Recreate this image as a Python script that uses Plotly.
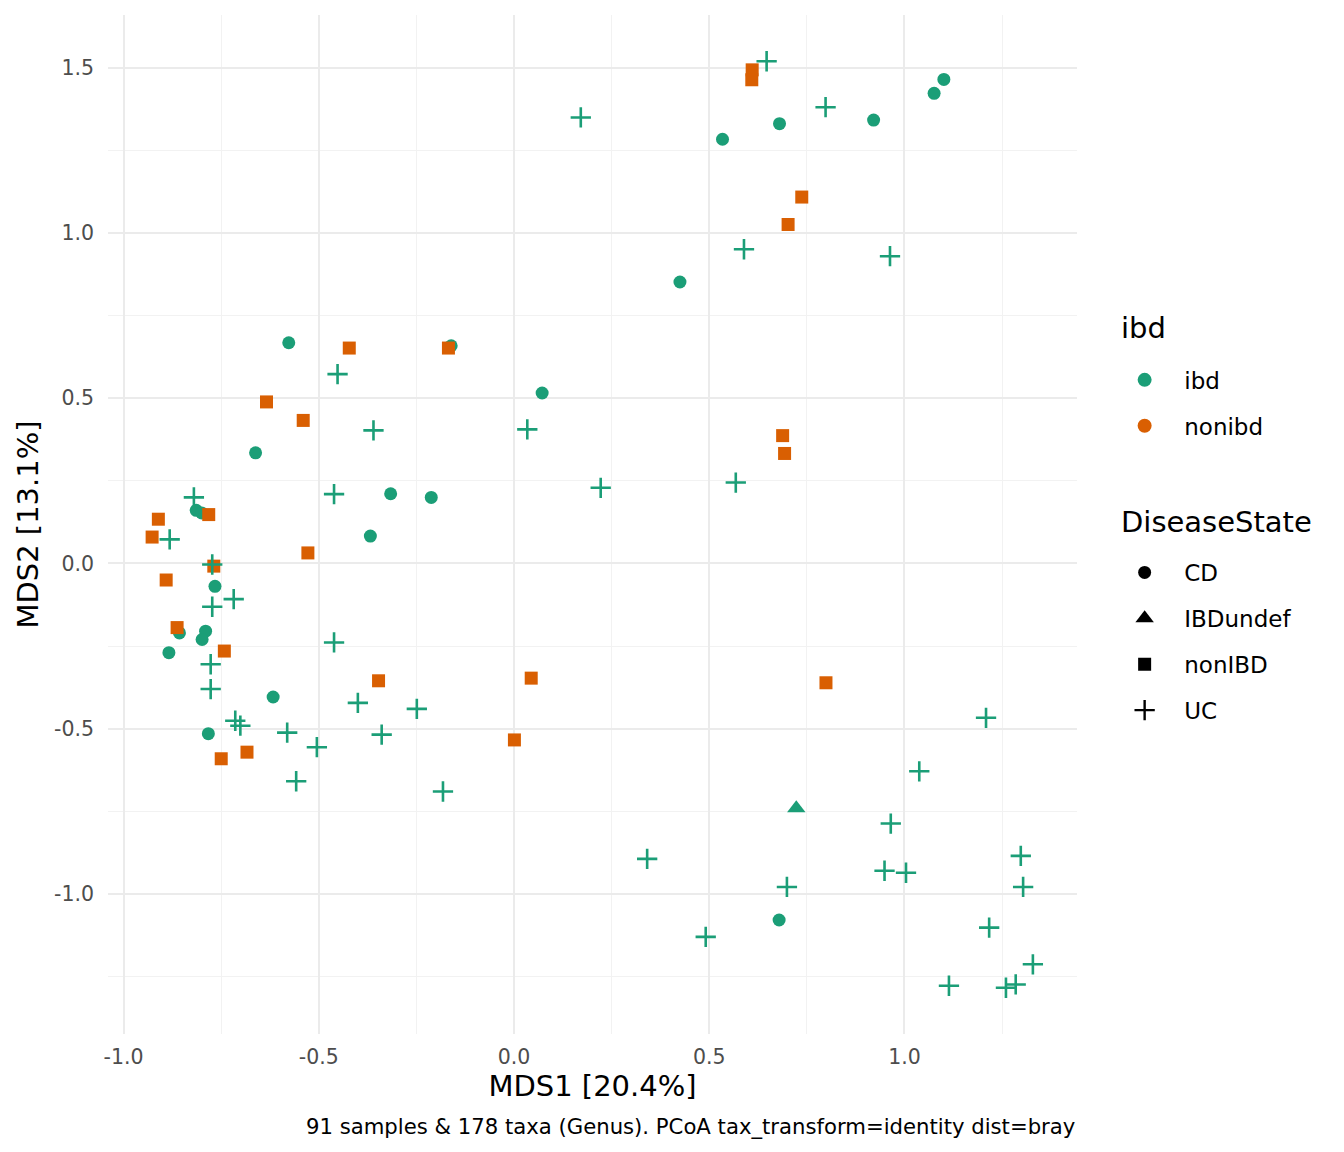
import plotly.graph_objects as pgo

# PCoA coordinates, grouped by DiseaseState
cd_x = [-0.814, -0.800, -0.766, -0.857, -0.790, -0.799, -0.884, -0.617, -0.783, -0.577,
        -0.161, 0.072, -0.662, -0.316, -0.212, -0.368, 0.534, 0.680, 0.921, 1.076,
        1.101, 0.425, 0.679]
cd_y = [0.161, 0.153, -0.069, -0.210, -0.205, -0.230, -0.270, -0.404, -0.515, 0.668,
        0.659, 0.516, 0.335, 0.211, 0.200, 0.083, 1.284, 1.331, 1.342, 1.423,
        1.465, 0.852, -1.079]

undef_x = [0.723]
undef_y = [-0.741]

nonibd_x = [-0.782, -0.911, -0.927, -0.528, -0.769, -0.891, -0.863, -0.742, -0.684, -0.750,
            -0.422, -0.168, -0.634, -0.540, -0.347, 0.044, 0.001, 0.610, 0.609, 0.737,
            0.702, 0.688, 0.693, 0.799]
nonibd_y = [0.148, 0.134, 0.080, 0.032, -0.008, -0.050, -0.194, -0.265, -0.571, -0.591,
            0.652, 0.652, 0.489, 0.433, -0.355, -0.347, -0.534, 1.494, 1.464, 1.109,
            1.026, 0.387, 0.333, -0.361]

uc_x = [-0.820, -0.882, -0.773, -0.718, -0.773, -0.777, -0.777, -0.714, -0.701, -0.581,
        -0.505, -0.558, -0.461, -0.461, -0.452, -0.360, 0.034, 0.222, -0.400, -0.249,
        -0.339, -0.182, 0.171, 0.647, 0.798, 0.589, 0.963, 0.568, 1.209, 1.038,
        0.965, 0.341, 0.949, 1.004, 1.298, 0.699, 1.304, 0.491, 1.217, 1.329,
        1.114, 1.260, 1.285]
uc_y = [0.200, 0.073, -0.003, -0.108, -0.131, -0.305, -0.380, -0.476, -0.491, -0.512,
        -0.556, -0.659, 0.210, -0.239, 0.573, 0.403, 0.406, 0.229, -0.422, -0.440,
        -0.518, -0.690, 1.350, 1.520, 1.381, 0.951, 0.930, 0.245, -0.467, -0.629,
        -0.787, -0.894, -0.930, -0.936, -0.885, -0.979, -0.979, -1.130, -1.102, -1.213,
        -1.278, -1.284, -1.274]

ibd_col = "#1B9E77"
nonibd_col = "#D95F02"
pad = "\u00a0\u00a0"  # nudges legend labels right of the keys

fig = pgo.Figure()

def add_points(x, y, color, symbol, size, line=0):
    fig.add_trace(pgo.Scatter(x=x, y=y, mode="markers", showlegend=False, hoverinfo="x+y",
                              marker=dict(color=color, symbol=symbol, size=size,
                                          line=dict(color=color, width=line))))

add_points(cd_x, cd_y, ibd_col, "circle", 13)
add_points(undef_x, undef_y, ibd_col, "triangle-up", 16)
add_points(nonibd_x, nonibd_y, nonibd_col, "square", 13)
add_points(uc_x, uc_y, ibd_col, "cross-thin", 14.5, line=2.6)

# legend entries
for name, col in [("ibd", ibd_col), ("nonibd", nonibd_col)]:
    fig.add_trace(pgo.Scatter(x=[None], y=[None], mode="markers", name=pad + name, legend="legend",
                              legendgroup=name,
                              marker=dict(color=col, symbol="circle", size=14)))
for name, sym, sz, lw in [("CD", "circle", 13, 0), ("IBDundef", "triangle-up", 16, 0),
                          ("nonIBD", "square", 13, 0), ("UC", "cross-thin", 14.5, 2.4)]:
    fig.add_trace(pgo.Scatter(x=[None], y=[None], mode="markers", name=pad + name, legend="legend2",
                              legendgroup=name,
                              marker=dict(color="black", symbol=sym, size=sz,
                                          line=dict(color="black", width=lw))))

axis_common = dict(showgrid=True, gridcolor="#EBEBEB", gridwidth=2, zeroline=False,
                   showline=False, ticks="", automargin=False,
                   tickfont=dict(size=20.5, color="#4D4D4D"),
                   minor=dict(dtick=0.25, showgrid=True, gridcolor="#F2F2F2", gridwidth=1))

fig.update_layout(
    width=1344, height=1152,
    paper_bgcolor="white", plot_bgcolor="white",
    font=dict(family="DejaVu Sans", color="black"),
    margin=dict(l=100, r=275, t=7, b=126, autoexpand=False),
    xaxis=dict(axis_common, range=[-1.040, 1.442], tickvals=[-1, -0.5, 0, 0.5, 1],
               ticktext=["-1.0", "-0.5", "0.0", "0.5", "1.0"], ticklabelstandoff=8,
               title=dict(text="MDS1 [20.4%]", font=dict(size=29), standoff=8)),
    yaxis=dict(axis_common, range=[-1.424, 1.660], tickvals=[-1, -0.5, 0, 0.5, 1, 1.5],
               ticktext=["-1.0", "-0.5", "0.0", "0.5", "1.0", "1.5"], ticklabelstandoff=13,
               title=dict(text="MDS2 [13.1%]", font=dict(size=29), standoff=6)),
    legend=dict(font=dict(size=23), x=1.044, xanchor="left", y=0.663, yanchor="top",
                tracegroupgap=13, itemwidth=40, bgcolor="rgba(0,0,0,0)"),
    legend2=dict(font=dict(size=23), x=1.044, xanchor="left", y=0.474, yanchor="top",
                 tracegroupgap=13, itemwidth=40, bgcolor="rgba(0,0,0,0)"),
    annotations=[
        dict(text="ibd", xref="paper", yref="paper", x=1.043, y=0.693, xanchor="left",
             yanchor="middle", showarrow=False, font=dict(size=29)),
        dict(text="DiseaseState", xref="paper", yref="paper", x=1.043, y=0.5026, xanchor="left",
             yanchor="middle", showarrow=False, font=dict(size=29)),
        dict(text="91 samples & 178 taxa (Genus). PCoA tax_transform=identity dist=bray",
             xref="paper", yref="paper", x=1, y=-0.0903, xanchor="right", yanchor="middle",
             showarrow=False, font=dict(size=21.2)),
    ],
)

fig.write_html("out.html")
